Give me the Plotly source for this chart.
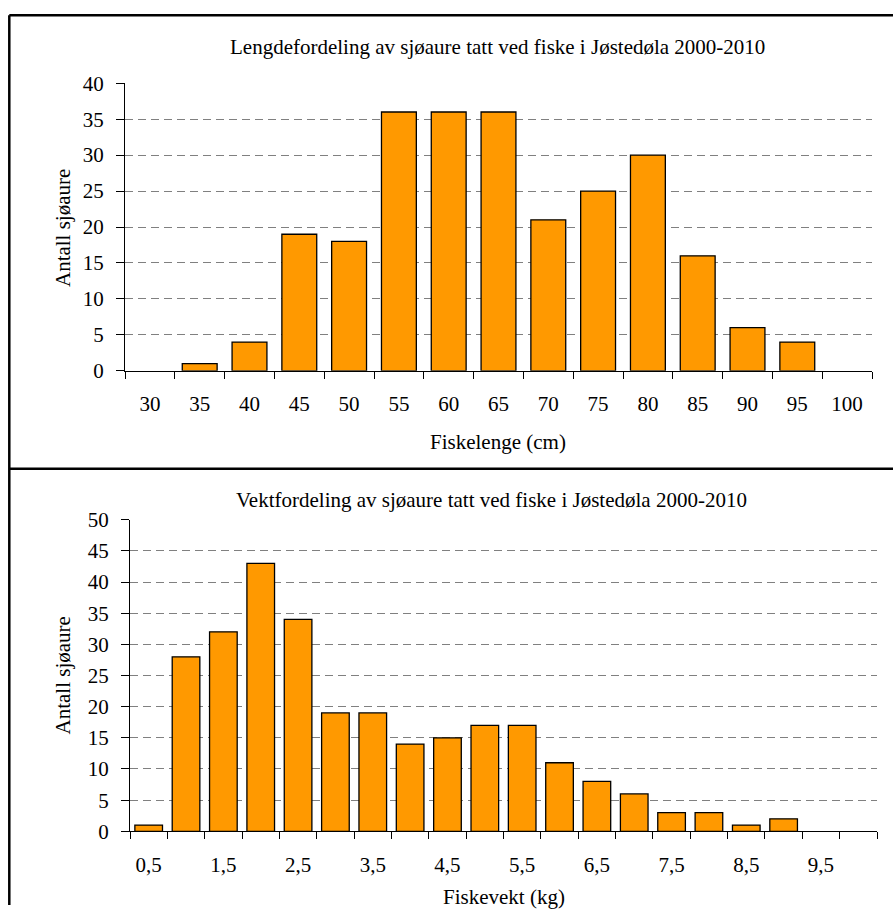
import plotly.graph_objects as go

# Length distribution (cm) – number of sea trout per class
length_classes = ["30", "35", "40", "45", "50", "55", "60", "65", "70", "75",
                  "80", "85", "90", "95", "100"]
length_counts = [0, 1, 4, 19, 18, 36, 36, 36, 21, 25, 30, 16, 6, 4, 0]

# Weight distribution (kg) – number of sea trout per class
weight_classes = ["0,5", "1", "1,5", "2", "2,5", "3", "3,5", "4", "4,5", "5",
                  "5,5", "6", "6,5", "7", "7,5", "8", "8,5", "9", "9,5", "10"]
weight_counts = [1, 28, 32, 43, 34, 19, 19, 14, 15, 17, 17, 11, 8, 6, 3, 3, 1, 2, 0, 0]
# only the half-kilo classes carry a label on the axis
weight_ticktext = [c if "," in c else "" for c in weight_classes]

W, H = 893, 917
FONT = "Times New Roman, Liberation Serif, DejaVu Serif, serif"
BAR = "#FF9900"

# vertical placement correction for the rendered page
Y_OFF, Y_SCALE = 11.7, 0.975


def px_x(v):
    return v / W


def px_y(v):
    return 1 - ((v - Y_OFF) / Y_SCALE) / H


def outline(counts):
    # empty classes get no outline so nothing is drawn on the axis
    return [1.3 if c > 0 else 0 for c in counts]


fig = go.Figure()

fig.add_trace(go.Bar(
    x=length_classes, y=length_counts, xaxis="x", yaxis="y", width=0.70,
    marker=dict(color=BAR, line=dict(color="black", width=outline(length_counts))),
    showlegend=False, hoverinfo="x+y",
))
fig.add_trace(go.Bar(
    x=weight_classes, y=weight_counts, xaxis="x2", yaxis="y2", width=0.74,
    marker=dict(color=BAR, line=dict(color="black", width=outline(weight_counts))),
    showlegend=False, hoverinfo="x+y",
))

tickfont = dict(family=FONT, size=21, color="black")

common_x = dict(
    type="category", tickson="boundaries", ticks="outside", ticklen=7,
    tickcolor="black", tickwidth=1.3, showline=True, linecolor="black",
    linewidth=1.3, showgrid=False, zeroline=False, tickfont=tickfont,
    ticklabelstandoff=14, fixedrange=True,
)
common_y = dict(
    dtick=5, ticks="outside", ticklen=8, tickcolor="black", tickwidth=1.3,
    showline=True, linecolor="black", linewidth=1.3, showgrid=True,
    gridcolor="#808080", gridwidth=1, griddash="8px,5px", zeroline=False,
    tickfont=tickfont, ticklabelstandoff=8, fixedrange=True,
)

fig.update_layout(
    width=W, height=H,
    margin=dict(l=0, r=0, t=0, b=0, pad=0),
    paper_bgcolor="white", plot_bgcolor="white",
    font=dict(family=FONT, size=21, color="black"),
    xaxis=dict(common_x, domain=[px_x(125), px_x(872)], anchor="y",
               range=[-0.5, len(length_classes) - 0.5]),
    yaxis=dict(common_y, domain=[px_y(371), px_y(83)], anchor="x", range=[0, 40]),
    xaxis2=dict(common_x, domain=[px_x(130), px_x(877)], anchor="y2",
                range=[-0.5, len(weight_classes) - 0.5],
                tickmode="array", tickvals=weight_classes, ticktext=weight_ticktext),
    yaxis2=dict(common_y, domain=[px_y(832), px_y(520)], anchor="x2", range=[0, 50]),
)

# panel frames
frame = dict(type="line", xref="paper", yref="paper", line=dict(color="black", width=2.5))
fig.add_shape(frame, x0=px_x(9.3), x1=px_x(9.3), y0=0, y1=px_y(15))
fig.add_shape(frame, x0=px_x(9.3), x1=1, y0=px_y(15), y1=px_y(15))
fig.add_shape(frame, x0=px_x(9.3), x1=1, y0=px_y(469), y1=px_y(469))


def label(text, x, y, angle=0, size=21):
    fig.add_annotation(text=text, x=px_x(x), y=px_y(y), xref="paper", yref="paper",
                       showarrow=False, textangle=angle, xanchor="center",
                       yanchor="middle", font=dict(family=FONT, size=size, color="black"))


label("Lengdefordeling av sjøaure tatt ved fiske i Jøstedøla 2000-2010", 497, 47)
label("Antall sjøaure", 63, 228, angle=-90)
label("Fiskelenge (cm)", 498, 442)

label("Vektfordeling av sjøaure tatt ved fiske i Jøstedøla 2000-2010", 491, 500)
label("Antall sjøaure", 63, 676, angle=-90)
label("Fiskevekt (kg)", 504, 898)

fig.write_html("out.html")
